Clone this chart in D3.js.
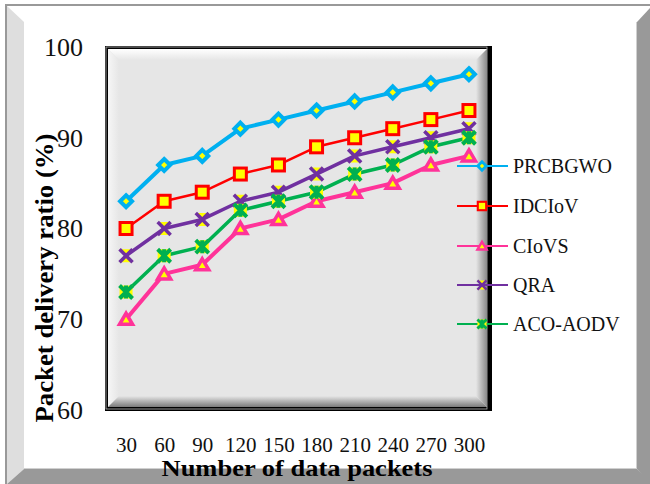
<!DOCTYPE html>
<html><head><meta charset="utf-8">
<script src="https://cdn.jsdelivr.net/npm/d3@7"></script>
<style>html,body{margin:0;padding:0;background:#fff;}svg{display:block;}</style>
</head><body>
<script>
const categories = ["30","60","90","120","150","180","210","240","270","300"];
const seriesNames = ["PRCBGWO","IDCIoV","CIoVS","QRA","ACO-AODV"];
const prcbgwo = [83,87,88,91,92,93,94,95,96,97];
const idciov  = [80,83,84,86,87,89,90,91,92,93];
const ciovs   = [70,75,76,80,81,83,84,85,87,88];
const qra     = [77,80,81,83,84,86,88,89,90,91];
const acoAodv = [73,77,78,82,83,84,86,87,89,90];
const yTicks  = [60,70,80,90,100];
const xTitle = "Number of data packets";
const yTitle = "Packet delivery ratio (%)";

const W = 650, H = 484;
const svg = d3.select("body").append("svg").attr("width", W).attr("height", H);
const defs = svg.append("defs");
function grad(id, x1,y1,x2,y2, c1, c2){
  const g = defs.append("linearGradient").attr("id", id)
    .attr("x1",x1).attr("y1",y1).attr("x2",x2).attr("y2",y2);
  g.append("stop").attr("offset","0%").attr("stop-color",c1);
  g.append("stop").attr("offset","100%").attr("stop-color",c2);
}
grad("gTop",0,0,0,1,"#ffffff","#e6e6e6");
grad("gLeft",0,0,1,0,"#f6f6f6","#e6e6e6");
grad("gRight",0,0,1,0,"#e6e6e6","#8a8a8a");
grad("gBot",0,0,0,1,"#e6e6e6","#7a7a7a");

// outer frame
svg.append("rect").attr("width",W).attr("height",H).attr("fill","#fff");
svg.append("line").attr("x1",5).attr("x2",W).attr("y1",5).attr("y2",5).attr("stroke","#999").attr("stroke-width",2);
svg.append("line").attr("x1",6).attr("x2",6).attr("y1",5).attr("y2",H).attr("stroke","#999").attr("stroke-width",2);
svg.append("polygon").attr("points","7,6 24,22 24,469 7,484").attr("fill","#dedede");
svg.append("polygon").attr("points","7,484 24,469 637,469 650,482 650,484").attr("fill","#999");
svg.append("polygon").attr("points","637,22 650,8 650,484 637,469").attr("fill","#999");
svg.append("line").attr("x1",24).attr("x2",637).attr("y1",468.5).attr("y2",468.5).attr("stroke","#d0d0d0");
svg.append("line").attr("x1",636.5).attr("x2",636.5).attr("y1",22).attr("y2",469).attr("stroke","#d0d0d0");

// plot frame
const fx0 = 105, fy0 = 46, fx1 = 492, fy1 = 411;
svg.append("rect").attr("x",fx0).attr("y",fy0).attr("width",fx1-fx0).attr("height",fy1-fy0).attr("fill","#000");
svg.append("rect").attr("x",fx0+1).attr("y",fy0+1).attr("width",fx1-fx0-6).attr("height",fy1-fy0-3).attr("fill","none").attr("stroke","#bbb").attr("stroke-width",0.8);
const ix0 = 108, iy0 = 49, ix1 = 487, iy1 = 407, bv = 11;
svg.append("rect").attr("x",ix0).attr("y",iy0).attr("width",ix1-ix0).attr("height",iy1-iy0).attr("fill","#e6e6e6");
svg.append("polygon").attr("points",`${ix0},${iy0} ${ix1},${iy0} ${ix1-bv},${iy0+bv} ${ix0+bv},${iy0+bv}`).attr("fill","url(#gTop)");
svg.append("polygon").attr("points",`${ix0},${iy0} ${ix0+bv},${iy0+bv} ${ix0+bv},${iy1-bv} ${ix0},${iy1}`).attr("fill","url(#gLeft)");
svg.append("polygon").attr("points",`${ix1},${iy0} ${ix1},${iy1} ${ix1-bv},${iy1-bv} ${ix1-bv},${iy0+bv}`).attr("fill","url(#gRight)");
svg.append("polygon").attr("points",`${ix0},${iy1} ${ix1},${iy1} ${ix1-bv},${iy1-bv} ${ix0+bv},${iy1-bv}`).attr("fill","url(#gBot)");

// scales
const x = d3.scalePoint().domain(categories).range([107,488]).padding(0.5);
const y = d3.scaleLinear().domain([60,100]).range([410,47]);

// axes
const serif = "'Liberation Serif','Times New Roman',serif";
const ya = svg.append("g").attr("transform","translate(86,0)")
  .call(d3.axisLeft(y).tickValues(yTicks).tickSize(0).tickPadding(3));
ya.select(".domain").remove();
ya.selectAll("text").attr("font-family",serif).attr("font-size",26).attr("fill","#111");
const xa = svg.append("g").attr("transform","translate(0,437)")
  .call(d3.axisBottom(x).tickSize(0).tickPadding(0));
xa.select(".domain").remove();
xa.selectAll("text").attr("font-family",serif).attr("font-size",21).attr("fill","#111");

// titles
svg.append("text").attr("x",297).attr("y",476).attr("text-anchor","middle")
  .attr("font-family",serif).attr("font-weight","bold").attr("font-size",23)
  .attr("textLength",271).attr("lengthAdjust","spacingAndGlyphs").attr("fill","#000").text(xTitle);
svg.append("text").attr("transform","translate(53,278) rotate(-90)").attr("text-anchor","middle")
  .attr("font-family",serif).attr("font-weight","bold").attr("font-size",26)
  .attr("textLength",289).attr("lengthAdjust","spacingAndGlyphs").attr("fill","#000").text(yTitle);

// series
const seriesValues = [prcbgwo, idciov, ciovs, qra, acoAodv];
const colors = ["#00b0f0","#ff0000","#ff3399","#7030a0","#00b050"];
const widths = [4,2.5,4,3.5,3.5];
const markers = ["diamond","square","triangle","x","star"];

function drawMarker(g, type, color, s){
  const yel = "#ffff00";
  if(type==="diamond"){
    g.append("path").attr("d",`M0,${-6*s}L${6*s},0L0,${6*s}L${-6*s},0Z`).attr("fill",yel).attr("stroke",color).attr("stroke-width",4*s);
  } else if(type==="square"){
    g.append("rect").attr("x",-6*s).attr("y",-6*s).attr("width",12*s).attr("height",12*s).attr("fill",yel).attr("stroke",color).attr("stroke-width",3*s);
  } else if(type==="triangle"){
    g.append("path").attr("d",`M0,${-6*s}L${6.5*s},${5*s}L${-6.5*s},${5*s}Z`).attr("fill",yel).attr("stroke",color).attr("stroke-width",3.5*s).attr("stroke-linejoin","miter");
  } else if(type==="x"){
    const r = 6.5*s;
    g.append("path").attr("d",`M${-r},${-r}L${r},${-r}L0,0L${r},${r}L${-r},${r}L0,0Z`).attr("fill",yel);
    g.append("path").attr("d",`M${-r},${-r}L${r},${r}M${r},${-r}L${-r},${r}`).attr("stroke",color).attr("stroke-width",3.5*s);
  } else if(type==="star"){
    const r = 6.5*s;
    g.append("rect").attr("x",-r).attr("y",-r).attr("width",2*r).attr("height",2*r).attr("fill",yel);
    g.append("path").attr("d",`M${-r},${-r}L${r},${r}M${r},${-r}L${-r},${r}M0,${-r}L0,${r}`).attr("stroke",color).attr("stroke-width",4*s);
  }
}

const line = d3.line().x((d,i)=>x(categories[i])).y(d=>y(d));
seriesValues.forEach((vals, k) => {
  const g = svg.append("g");
  g.append("path").datum(vals).attr("d",line).attr("fill","none")
    .attr("stroke",colors[k]).attr("stroke-width",widths[k]).attr("stroke-linejoin","round");
  vals.forEach((v,i) => {
    const m = g.append("g").attr("transform",`translate(${x(categories[i])},${y(v)})`);
    drawMarker(m, markers[k], colors[k], 1);
  });
});

// legend
const legY = [166,206,246,285,324];
seriesNames.forEach((name,k) => {
  const g = svg.append("g").attr("transform",`translate(0,${legY[k]})`);
  g.append("line").attr("x1",457).attr("x2",508).attr("y1",0).attr("y2",0).attr("stroke",colors[k]).attr("stroke-width",2);
  const m = g.append("g").attr("transform","translate(482,0)");
  drawMarker(m, markers[k], colors[k], 0.7);
  g.append("text").attr("x",513).attr("y",0).attr("dy","0.35em")
    .attr("font-family",serif).attr("font-size",20).attr("fill","#111").text(name);
});
</script>
</body></html>
